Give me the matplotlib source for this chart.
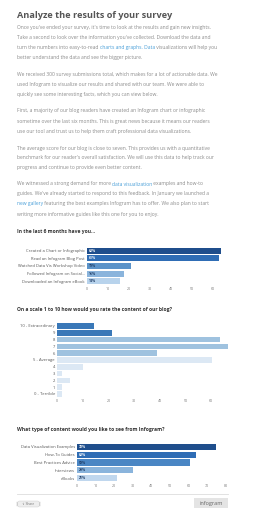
import matplotlib
matplotlib.use("Agg")
import matplotlib.pyplot as plt
from matplotlib.patches import FancyBboxPatch

W, H = 258, 516

# ---- text ----
title = "Analyze the results of your survey"
BODY = "#8c8c8c"
LINK = "#4a9fd8"
paragraphs = [
    [[("Once you've ended your survey, it's time to look at the results and gain new insights.", BODY)],
     [("Take a second to look over the information you've collected. Download the data and", BODY)],
     [("turn the numbers into easy-to-read ", BODY), ("charts and graphs. Data", LINK),
      (" visualizations will help you", BODY)],
     [("better understand the data and see the bigger picture.", BODY)]],
    [[("We received 300 survey submissions total, which makes for a lot of actionable data. We", BODY)],
     [("used Infogram to visualize our results and shared with our team. We were able to", BODY)],
     [("quickly see some interesting facts, which you can view below.", BODY)]],
    [[("First, a majority of our blog readers have created an Infogram chart or infographic", BODY)],
     [("sometime over the last six months. This is great news because it means our readers", BODY)],
     [("use our tool and trust us to help them craft professional data visualizations.", BODY)]],
    [[("The average score for our blog is close to seven. This provides us with a quantitative", BODY)],
     [("benchmark for our reader's overall satisfaction. We will use this data to help track our", BODY)],
     [("progress and continue to provide even better content.", BODY)]],
    [[("We witnessed a strong demand for more ", BODY), ("data visualization", LINK),
      (" examples and how-to", BODY)],
     [("guides. We've already started to respond to this feedback. In January we launched a", BODY)],
     [("new gallery", LINK), (" featuring the best examples Infogram has to offer. We also plan to start", BODY)],
     [("writing more informative guides like this one for you to enjoy.", BODY)]],
]
para_y = [28, 74.5, 111, 148, 184]

# ---- chart data ----
q1_title = "In the last 6 months have you..."
q1_cats = ["Created a Chart or Infographic", "Read an Infogram Blog Post",
           "Watched Data Vis Workshop Video", "Followed Infogram on Social...",
           "Downloaded an Infogram eBook"]
q1_vals = [64, 63, 21, 17.5, 15.5]
q1_labels = ["62%", "61%", "19%", "16%", "14%"]

q2_title = "On a scale 1 to 10 how would you rate the content of our blog?"
q2_cats = ["10 - Extraordinary", "9", "8", "7", "6", "5 - Average",
           "4", "3", "2", "1", "0 - Terrible"]
q2_vals = [14.5, 21.5, 63.5, 66.5, 39, 60.5, 10, 2, 5, 2, 2]

q3_title = "What type of content would you like to see from Infogram?"
q3_cats = ["Data Visualization Examples", "How-To Guides", "Best Practices Advice",
           "Interviews", "eBooks"]
q3_vals = [74.5, 64, 60.5, 30, 21.5]
q3_labels = ["72%", "62%", "59%", "29%", "21%"]

FONT = "Open Sans"
plt.rcParams["font.family"] = [FONT, "DejaVu Sans"]

fig = plt.figure(figsize=(W / 100, H / 100), dpi=100)
fig.patch.set_facecolor("white")
renderer = fig.canvas.get_renderer()


def fy(y):
    return 1 - y / H


def text_line(x, y, segs, size=3.6):
    cx = x
    for s, c in segs:
        t = fig.text(cx / W, fy(y), s, color=c, fontsize=size, va="center", ha="left")
        bb = t.get_window_extent(renderer)
        cx += bb.width


fig.text(17 / W, fy(15), title, fontsize=6.6, fontweight="bold", color="#555555",
         va="center", ha="left")

for y0, para in zip(para_y, paragraphs):
    for i, line in enumerate(para):
        text_line(17, y0 + 10 * i, line)


def bar_chart(ttl, ty, cats, vals, colors, left, top, bottom, xmax, px_per_unit,
              ticks, labels=None, label_colors=None, height=0.8):
    fig.text(17 / W, fy(ty), ttl, fontsize=3.6, fontweight="bold", color="#333333",
             va="center", ha="left")
    ax = fig.add_axes([left / W, fy(bottom), xmax * px_per_unit / W, (bottom - top) / H])
    pos = list(range(len(cats)))
    ax.barh(pos, vals, height=height, color=colors, edgecolor="none")
    ax.set_xlim(0, xmax)
    ax.set_ylim(len(cats) - 0.5, -0.5)
    ax.set_yticks(pos)
    ax.set_yticklabels(cats, fontsize=3.0, color="#555555")
    ax.set_xticks(ticks)
    ax.set_xticklabels([str(t) for t in ticks], fontsize=2.6, color="#777777")
    ax.tick_params(length=0, pad=1.5)
    for s in ax.spines.values():
        s.set_visible(False)
    if labels:
        for p, lab, lc in zip(pos, labels, label_colors):
            ax.text(xmax * 0.01, p, lab, fontsize=2.5, fontweight="bold", color=lc,
                    va="center", ha="left")
    return ax


bar_chart(q1_title, 232, q1_cats, q1_vals,
          ["#1f4e8c", "#2f6db5", "#5b93c9", "#8ab4dc", "#b8d3ec"],
          left=87, top=247, bottom=285, xmax=67, px_per_unit=2.1,
          ticks=list(range(0, 70, 10)), labels=q1_labels,
          label_colors=["white", "white", "#1f3d66", "#1f3d66", "#1f3d66"])

q2_colors = ["#3a78b8"] * 2 + ["#9fc2df"] * 3 + ["#dce8f4"] * 6
bar_chart(q2_title, 309, q2_cats, q2_vals, q2_colors,
          left=57, top=322.6, bottom=397.4, xmax=68, px_per_unit=2.57,
          ticks=list(range(0, 70, 10)), height=0.85)

bar_chart(q3_title, 430, q3_cats, q3_vals,
          ["#1f4e8c", "#2f6db5", "#4a86c4", "#8ab4dc", "#c0d7ee"],
          left=77, top=443, bottom=482, xmax=82, px_per_unit=1.86,
          ticks=list(range(0, 90, 10)), labels=q3_labels,
          label_colors=["white", "white", "#1f3d66", "#1f3d66", "#1f3d66"])

# footer
fig.add_artist(plt.Line2D([17 / W, 228 / W], [fy(494), fy(494)], color="#dddddd", lw=0.6))
fig.add_artist(FancyBboxPatch((17 / W, fy(507)), 23 / W, 6 / H,
                              boxstyle="round,pad=0,rounding_size=0.01",
                              fc="#eeeeee", ec="#cccccc", lw=0.3))
fig.text(28.5 / W, fy(504), "\u21e7 Share", fontsize=2.3, color="#777777", ha="center", va="center")
fig.add_artist(FancyBboxPatch((194 / W, fy(508)), 34 / W, 10 / H,
                              boxstyle="square,pad=0", fc="#e4e4e4", ec="none"))
fig.text(211 / W, fy(503), "infogram", fontsize=4, color="#666666", ha="center", va="center")

fig.savefig("out.png", dpi=100, facecolor="white")
